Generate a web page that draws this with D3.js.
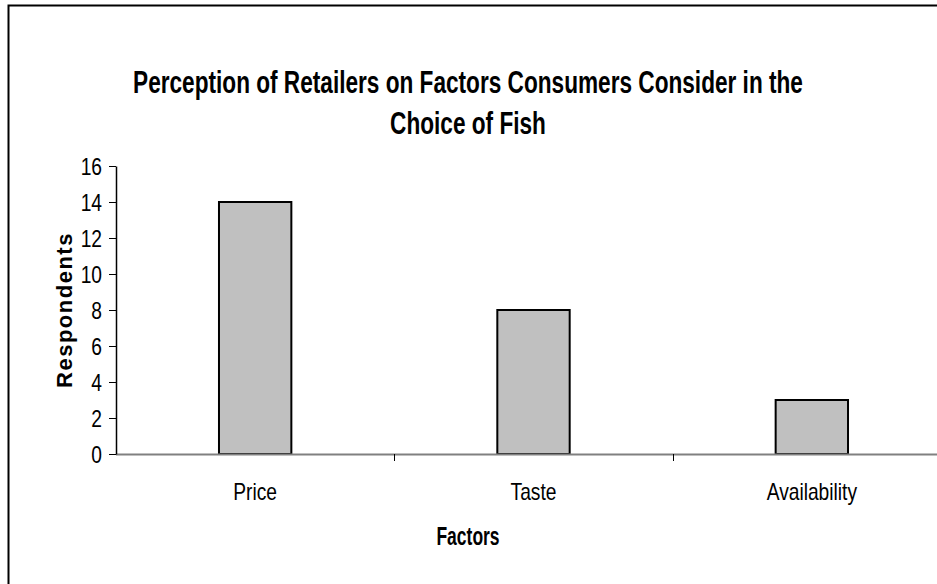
<!DOCTYPE html>
<html>
<head>
<meta charset="utf-8">
<script src="https://cdn.jsdelivr.net/npm/d3@7"></script>
<style>
  html, body { margin: 0; padding: 0; background: #fff; }
  svg { display: block; }
</style>
</head>
<body>
<svg id="chart" width="937" height="584"></svg>
<script>
// Survey results: factors consumers consider when choosing fish (retailer view)
const categories = ["Price", "Taste", "Availability"];
const respondents = [14, 8, 3];
const yTicks = [0, 2, 4, 6, 8, 10, 12, 14, 16];
const titleLines = ["Perception of Retailers on Factors Consumers Consider in the", "Choice of Fish"];
const xTitle = "Factors";
const yTitle = "Respondents";

const svg = d3.select("#chart");
const font = "'Liberation Sans', Arial, sans-serif";
// Narrow face emulated by horizontal compression
const narrowScale = 0.8;

// Chart area frame (extends past the right and bottom edges)
svg.append("rect")
  .attr("x", 8.5).attr("y", 5.5)
  .attr("width", 1000).attr("height", 700)
  .attr("fill", "#fff")
  .attr("stroke", "#000").attr("stroke-width", 2);

const plot = { left: 116, right: 951, top: 166, bottom: 454 };

const x = d3.scaleBand().domain(categories).range([plot.left, plot.right]).padding(0);
const y = d3.scaleLinear().domain([0, 16]).range([plot.bottom, plot.top]);
const barW = x.step() * 0.26;

// Title
svg.selectAll("text.title").data(titleLines).join("text")
  .attr("class", "title")
  .attr("text-anchor", "middle")
  .style("font-family", font).style("font-size", "31px").style("font-weight", "bold")
  .attr("transform", (d, i) => `translate(468,${93 + i * 41}) scale(0.73,1)`)
  .text(d => d);

// Bars
svg.append("g").selectAll("rect").data(categories).join("rect")
  .attr("x", d => x(d) + x.bandwidth() / 2 - barW / 2)
  .attr("y", (d, i) => y(respondents[i]))
  .attr("width", barW)
  .attr("height", (d, i) => y(0) - y(respondents[i]))
  .attr("fill", "#c0c0c0")
  .attr("stroke", "#000").attr("stroke-width", 2);

// X axis
const xAxis = svg.append("g").attr("transform", `translate(0,${plot.bottom})`);
xAxis.append("line")
  .attr("x1", plot.left).attr("x2", plot.right)
  .attr("y1", 0.5).attr("y2", 0.5)
  .attr("stroke", "#808080").attr("stroke-width", 2);
const xTickPos = categories.map(d => x(d)).concat([x.range()[1]]);
xAxis.selectAll("line.tick").data(xTickPos.slice(1)).join("line")
  .attr("class", "tick")
  .attr("x1", d => Math.round(d) + 0.5).attr("x2", d => Math.round(d) + 0.5)
  .attr("y1", 0).attr("y2", 7)
  .attr("stroke", "#000").attr("stroke-width", 1);
xAxis.selectAll("text").data(categories).join("text")
  .attr("text-anchor", "middle")
  .attr("transform", d => `translate(${x(d) + x.bandwidth() / 2},46) scale(${narrowScale},1)`)
  .style("font-family", font).style("font-size", "24px")
  .text(d => d);

// Y axis
const yAxis = d3.axisLeft(y).tickValues(yTicks).tickSize(7).tickSizeOuter(0);
const yg = svg.append("g").attr("transform", `translate(${plot.left},0)`).call(yAxis);
yg.select(".domain").attr("stroke", "#000").attr("stroke-width", 1.5);
yg.selectAll(".tick line").attr("stroke", "#000");
yg.selectAll(".tick text")
  .attr("x", 0).attr("dy", "0.36em")
  .attr("transform", `translate(-14,0) scale(${narrowScale},1)`)
  .style("font-family", font).style("font-size", "24px").attr("fill", "#000");

// Axis titles
svg.append("text")
  .attr("text-anchor", "middle")
  .attr("transform", `translate(468,545) scale(0.7,1)`)
  .style("font-family", font).style("font-size", "25px").style("font-weight", "bold")
  .text(xTitle);

svg.append("text")
  .attr("transform", `translate(72,${(plot.top + plot.bottom) / 2}) rotate(-90)`)
  .attr("text-anchor", "middle")
  .style("font-family", font).style("font-size", "22px").style("font-weight", "bold")
  .style("letter-spacing", "1.5px")
  .text(yTitle);
</script>
</body>
</html>
